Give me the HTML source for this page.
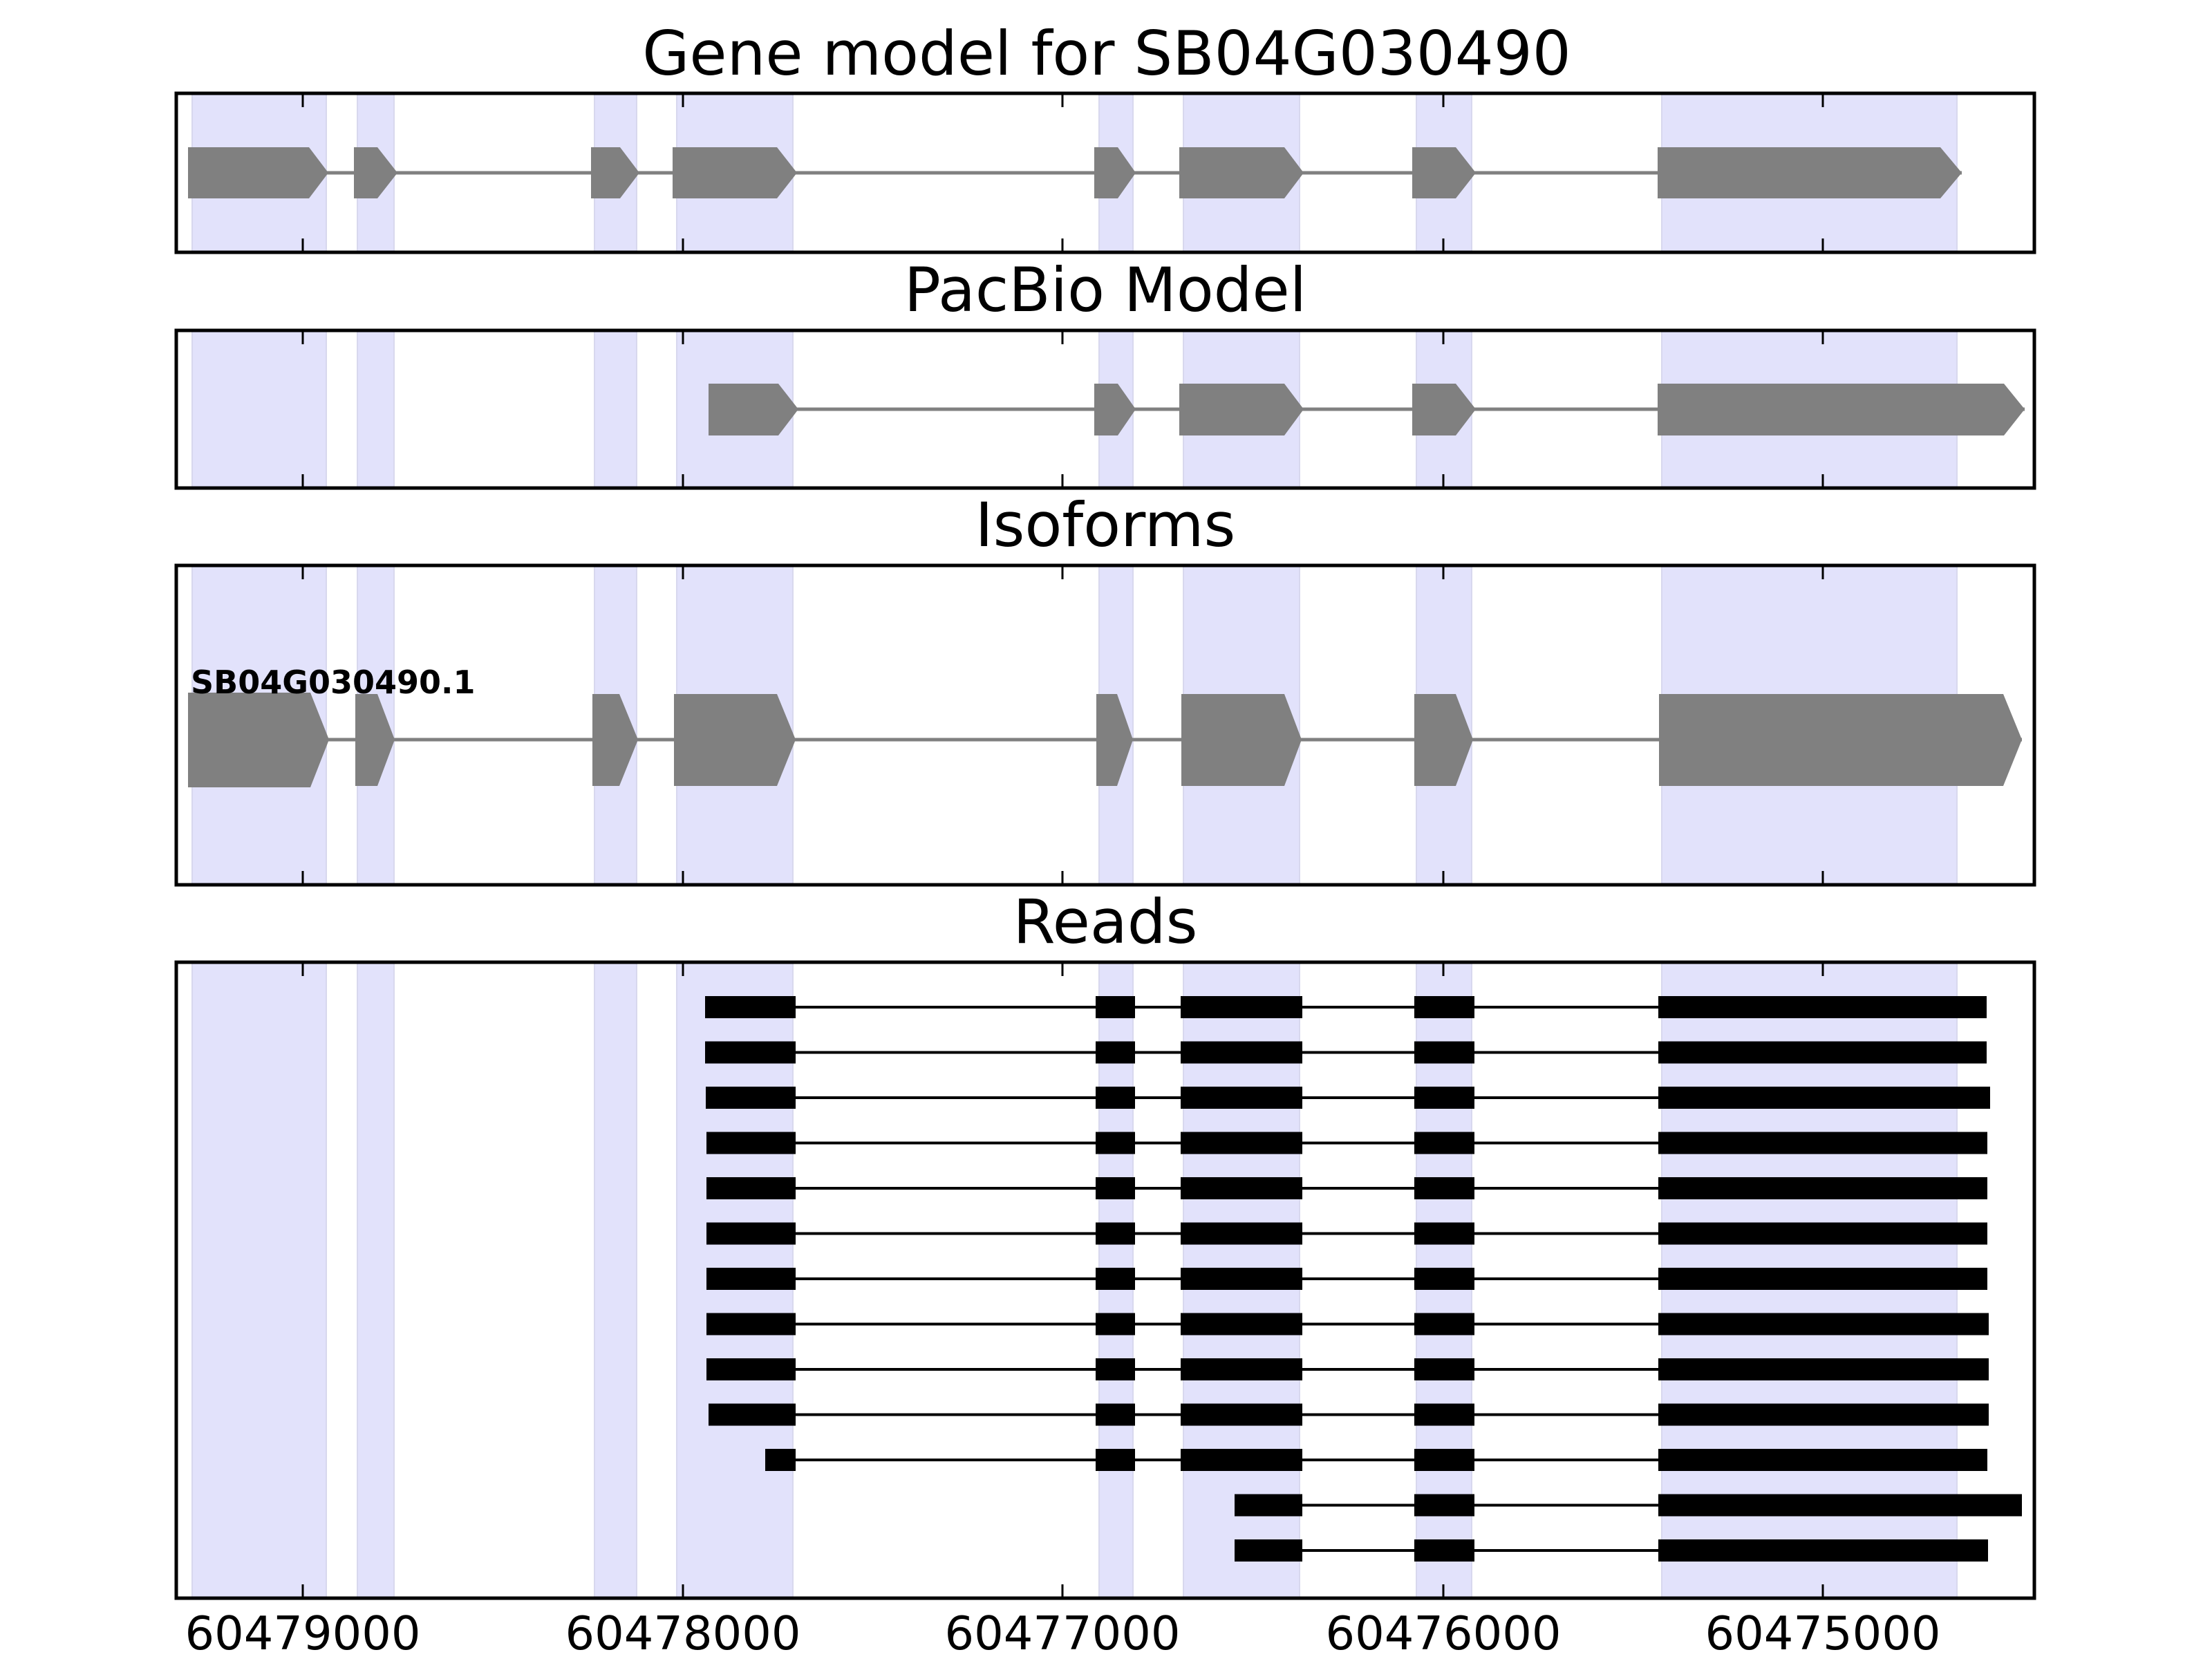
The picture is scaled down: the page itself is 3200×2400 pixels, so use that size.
<!DOCTYPE html>
<html><head><meta charset="utf-8"><style>html,body{margin:0;padding:0;background:#fff;width:3200px;height:2400px;overflow:hidden}svg{display:block}</style></head>
<body>
<svg width="3200" height="2400" viewBox="0 0 3200 2400" xmlns="http://www.w3.org/2000/svg" font-family="'DejaVu Sans','Liberation Sans',sans-serif">
<defs>
<g id="shade">
<rect x="278" y="0" width="194" height="1"/>
<rect x="517" y="0" width="53" height="1"/>
<rect x="860" y="0" width="61" height="1"/>
<rect x="979" y="0" width="168" height="1"/>
<rect x="1590" y="0" width="49" height="1"/>
<rect x="1712" y="0" width="168" height="1"/>
<rect x="2049" y="0" width="80" height="1"/>
<rect x="2404" y="0" width="427" height="1"/>
</g>
</defs>

<g fill="#e2e2fb">
<use href="#shade" transform="translate(0,135) scale(1,230)"/>
<use href="#shade" transform="translate(0,478) scale(1,228)"/>
<use href="#shade" transform="translate(0,818) scale(1,462)"/>
<use href="#shade" transform="translate(0,1392) scale(1,920)"/>
</g>
<g stroke="#d8d8ee" stroke-width="2" fill="none">
<path d="M278,135V365M472,135V365M517,135V365M570,135V365M860,135V365M921,135V365M979,135V365M1147,135V365M1590,135V365M1639,135V365M1712,135V365M1880,135V365M2049,135V365M2129,135V365M2404,135V365M2831,135V365"/>
<path d="M278,478V706M472,478V706M517,478V706M570,478V706M860,478V706M921,478V706M979,478V706M1147,478V706M1590,478V706M1639,478V706M1712,478V706M1880,478V706M2049,478V706M2129,478V706M2404,478V706M2831,478V706"/>
<path d="M278,818V1280M472,818V1280M517,818V1280M570,818V1280M860,818V1280M921,818V1280M979,818V1280M1147,818V1280M1590,818V1280M1639,818V1280M1712,818V1280M1880,818V1280M2049,818V1280M2129,818V1280M2404,818V1280M2831,818V1280"/>
<path d="M278,1392V2312M472,1392V2312M517,1392V2312M570,1392V2312M860,1392V2312M921,1392V2312M979,1392V2312M1147,1392V2312M1590,1392V2312M1639,1392V2312M1712,1392V2312M1880,1392V2312M2049,1392V2312M2129,1392V2312M2404,1392V2312M2831,1392V2312"/>
</g>

<g font-size="88" text-anchor="middle" fill="#000">
<text x="1601" y="108">Gene model for SB04G030490</text>
<text x="1599" y="450">PacBio Model</text>
<text x="1599" y="790">Isoforms</text>
<text x="1599" y="1364">Reads</text>
</g>

<g fill="#808080">
<line x1="272" y1="250" x2="2838" y2="250" stroke="#808080" stroke-width="5"/>
<polygon points="272,213 447,213 475,250 447,287 272,287"/>
<polygon points="512,213 546,213 575,250 546,287 512,287"/>
<polygon points="855,213 897,213 925,250 897,287 855,287"/>
<polygon points="973,213 1124,213 1153,250 1124,287 973,287"/>
<polygon points="1583,213 1617,213 1643,250 1617,287 1583,287"/>
<polygon points="1706,213 1858,213 1886,250 1858,287 1706,287"/>
<polygon points="2043,213 2106,213 2135,250 2106,287 2043,287"/>
<polygon points="2398,213 2807,213 2838,250 2807,287 2398,287"/>
</g>

<g fill="#808080">
<line x1="1025" y1="592" x2="2929" y2="592" stroke="#808080" stroke-width="5"/>
<polygon points="1025,555 1126,555 1155,592 1126,630 1025,630"/>
<polygon points="1583,555 1617,555 1643,592 1617,630 1583,630"/>
<polygon points="1706,555 1858,555 1886,592 1858,630 1706,630"/>
<polygon points="2043,555 2106,555 2135,592 2106,630 2043,630"/>
<polygon points="2398,555 2899,555 2929,592 2899,630 2398,630"/>
</g>

<g fill="#808080">
<line x1="272" y1="1070" x2="2925" y2="1070" stroke="#808080" stroke-width="5"/>
<polygon points="272,1002 449,1002 476,1070 449,1139 272,1139"/>
<polygon points="514,1004 546,1004 571,1070 546,1137 514,1137"/>
<polygon points="857,1004 896,1004 923,1070 896,1137 857,1137"/>
<polygon points="975,1004 1124,1004 1151,1070 1124,1137 975,1137"/>
<polygon points="1586,1004 1616,1004 1639,1070 1616,1137 1586,1137"/>
<polygon points="1709,1004 1858,1004 1883,1070 1858,1137 1709,1137"/>
<polygon points="2046,1004 2106,1004 2131,1070 2106,1137 2046,1137"/>
<polygon points="2400,1004 2898,1004 2925,1070 2898,1137 2400,1137"/>
</g>
<text x="276" y="1003" font-size="46" font-weight="bold" fill="#000">SB04G030490.1</text>

<g fill="#000">
<g transform="translate(0,1457)">
<line x1="1020" y1="0" x2="2874" y2="0" stroke="#000" stroke-width="4"/>
<rect x="1020" y="-16" width="131" height="32"/><rect x="1585" y="-16" width="57" height="32"/><rect x="1708" y="-16" width="176" height="32"/><rect x="2046" y="-16" width="87" height="32"/><rect x="2399" y="-16" width="475" height="32"/>
</g>
<g transform="translate(0,1522.5)">
<line x1="1020" y1="0" x2="2874" y2="0" stroke="#000" stroke-width="4"/>
<rect x="1020" y="-16" width="131" height="32"/><rect x="1585" y="-16" width="57" height="32"/><rect x="1708" y="-16" width="176" height="32"/><rect x="2046" y="-16" width="87" height="32"/><rect x="2399" y="-16" width="475" height="32"/>
</g>
<g transform="translate(0,1588)">
<line x1="1021" y1="0" x2="2879" y2="0" stroke="#000" stroke-width="4"/>
<rect x="1021" y="-16" width="130" height="32"/><rect x="1585" y="-16" width="57" height="32"/><rect x="1708" y="-16" width="176" height="32"/><rect x="2046" y="-16" width="87" height="32"/><rect x="2399" y="-16" width="480" height="32"/>
</g>
<g transform="translate(0,1653.5)">
<line x1="1022" y1="0" x2="2875" y2="0" stroke="#000" stroke-width="4"/>
<rect x="1022" y="-16" width="129" height="32"/><rect x="1585" y="-16" width="57" height="32"/><rect x="1708" y="-16" width="176" height="32"/><rect x="2046" y="-16" width="87" height="32"/><rect x="2399" y="-16" width="476" height="32"/>
</g>
<g transform="translate(0,1719)">
<line x1="1022" y1="0" x2="2875" y2="0" stroke="#000" stroke-width="4"/>
<rect x="1022" y="-16" width="129" height="32"/><rect x="1585" y="-16" width="57" height="32"/><rect x="1708" y="-16" width="176" height="32"/><rect x="2046" y="-16" width="87" height="32"/><rect x="2399" y="-16" width="476" height="32"/>
</g>
<g transform="translate(0,1784.5)">
<line x1="1022" y1="0" x2="2875" y2="0" stroke="#000" stroke-width="4"/>
<rect x="1022" y="-16" width="129" height="32"/><rect x="1585" y="-16" width="57" height="32"/><rect x="1708" y="-16" width="176" height="32"/><rect x="2046" y="-16" width="87" height="32"/><rect x="2399" y="-16" width="476" height="32"/>
</g>
<g transform="translate(0,1850)">
<line x1="1022" y1="0" x2="2875" y2="0" stroke="#000" stroke-width="4"/>
<rect x="1022" y="-16" width="129" height="32"/><rect x="1585" y="-16" width="57" height="32"/><rect x="1708" y="-16" width="176" height="32"/><rect x="2046" y="-16" width="87" height="32"/><rect x="2399" y="-16" width="476" height="32"/>
</g>
<g transform="translate(0,1915.5)">
<line x1="1022" y1="0" x2="2877" y2="0" stroke="#000" stroke-width="4"/>
<rect x="1022" y="-16" width="129" height="32"/><rect x="1585" y="-16" width="57" height="32"/><rect x="1708" y="-16" width="176" height="32"/><rect x="2046" y="-16" width="87" height="32"/><rect x="2399" y="-16" width="478" height="32"/>
</g>
<g transform="translate(0,1981)">
<line x1="1022" y1="0" x2="2877" y2="0" stroke="#000" stroke-width="4"/>
<rect x="1022" y="-16" width="129" height="32"/><rect x="1585" y="-16" width="57" height="32"/><rect x="1708" y="-16" width="176" height="32"/><rect x="2046" y="-16" width="87" height="32"/><rect x="2399" y="-16" width="478" height="32"/>
</g>
<g transform="translate(0,2046.5)">
<line x1="1025" y1="0" x2="2877" y2="0" stroke="#000" stroke-width="4"/>
<rect x="1025" y="-16" width="126" height="32"/><rect x="1585" y="-16" width="57" height="32"/><rect x="1708" y="-16" width="176" height="32"/><rect x="2046" y="-16" width="87" height="32"/><rect x="2399" y="-16" width="478" height="32"/>
</g>
<g transform="translate(0,2112)">
<line x1="1107" y1="0" x2="2875" y2="0" stroke="#000" stroke-width="4"/>
<rect x="1107" y="-16" width="44" height="32"/><rect x="1585" y="-16" width="57" height="32"/><rect x="1708" y="-16" width="176" height="32"/><rect x="2046" y="-16" width="87" height="32"/><rect x="2399" y="-16" width="476" height="32"/>
</g>
<g transform="translate(0,2177.5)">
<line x1="1786" y1="0" x2="2925" y2="0" stroke="#000" stroke-width="4"/>
<rect x="1786" y="-16" width="98" height="32"/><rect x="2046" y="-16" width="87" height="32"/><rect x="2399" y="-16" width="526" height="32"/>
</g>
<g transform="translate(0,2243)">
<line x1="1786" y1="0" x2="2876" y2="0" stroke="#000" stroke-width="4"/>
<rect x="1786" y="-16" width="98" height="32"/><rect x="2046" y="-16" width="87" height="32"/><rect x="2399" y="-16" width="477" height="32"/>
</g>
</g>

<g fill="none" stroke="#000" stroke-width="5">
<rect x="255" y="135" width="2688" height="230"/>
<rect x="255" y="478" width="2688" height="228"/>
<rect x="255" y="818" width="2688" height="462"/>
<rect x="255" y="1392" width="2688" height="920"/>
</g>

<g stroke="#000" stroke-width="3">
<path d="M438,135v20M988,135v20M1537,135v20M2088,135v20M2637,135v20M438,365v-20M988,365v-20M1537,365v-20M2088,365v-20M2637,365v-20"/>
<path d="M438,478v20M988,478v20M1537,478v20M2088,478v20M2637,478v20M438,706v-20M988,706v-20M1537,706v-20M2088,706v-20M2637,706v-20"/>
<path d="M438,818v20M988,818v20M1537,818v20M2088,818v20M2637,818v20M438,1280v-20M988,1280v-20M1537,1280v-20M2088,1280v-20M2637,1280v-20"/>
<path d="M438,1392v20M988,1392v20M1537,1392v20M2088,1392v20M2637,1392v20M438,2312v-20M988,2312v-20M1537,2312v-20M2088,2312v-20M2637,2312v-20"/>
</g>

<g font-size="67" text-anchor="middle" fill="#000">
<text x="438" y="2386">60479000</text>
<text x="988" y="2386">60478000</text>
<text x="1537" y="2386">60477000</text>
<text x="2088" y="2386">60476000</text>
<text x="2637" y="2386">60475000</text>
</g>
</svg>
</body></html>
